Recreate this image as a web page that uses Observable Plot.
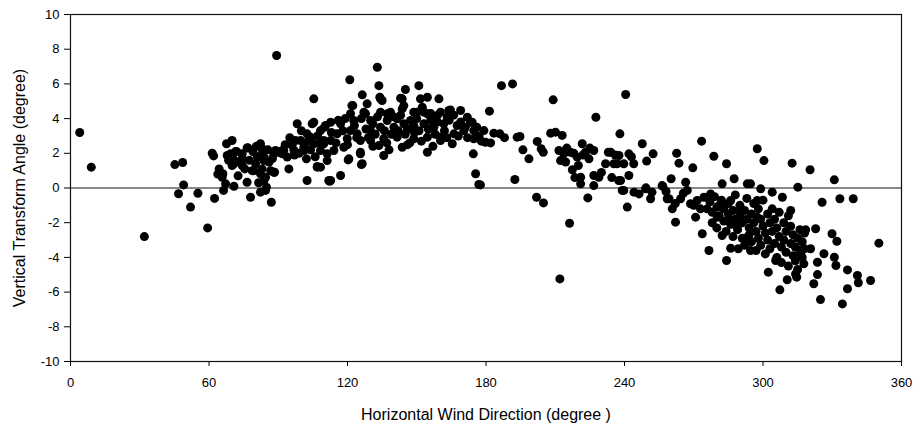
<!DOCTYPE html>
<html>
<head>
<meta charset="utf-8">
<script src="https://cdn.jsdelivr.net/npm/d3@7"></script>
<script src="https://cdn.jsdelivr.net/npm/@observablehq/plot@0.6"></script>
<style>
  html, body { margin: 0; padding: 0; background: #fff; }
  #chart svg { display: block; font-family: "Liberation Sans", Arial, sans-serif; }
</style>
</head>
<body>
<div id="chart"></div>
<script>
// Axis tick values
const directionTicks = [0, 60, 120, 180, 240, 300, 360];
const angleTicks = [-10, -8, -6, -4, -2, 0, 2, 4, 6, 8, 10];

// Observations as [horizontal wind direction (deg), vertical transform angle (deg)], grouped by sector
const sector000to090 = [
  [4,3.2],[9,1.2],[32,-2.8],
  [45.2,1.35],[48.6,1.47],[49,0.18],[46.8,-0.33],[52,-1.1],[55.2,-0.3],[59.4,-2.3],[62.4,-0.6],
  [61.4,2.0],[62,1.85],[66.3,-0.14],[67.2,0.24],[70.8,0.1],[64.4,1.1],[66,0.82],[67.6,2.55],[70,2.74],
  [67.9,1.87],[70,1.3],[70.5,1.68],[74.4,1.68],[74.4,1.3],[76.8,2.32],[76.5,0.33],[78,-0.53],[79.4,1.0],
  [80.2,1.4],[82.3,2.55],[83,2.26],[83.8,1.78],[82.3,0.82],[83.8,0.43],[82.3,-0.24],[84.5,-0.14],[87,-0.82],
  [86.7,1.0],[88.1,0.91],[86,1.49],[88.8,2.16],[89.3,7.64],[65.7,0.62],[69.3,1.97],[70.8,1.4],[73.7,1.58],
  [74.4,1.97],[76.5,2.31],[78.7,1.0],[83,1.97],[83.8,1.58],[83,1.1],[84.5,0.62],[84.9,0.05],[88.4,0.91],
  [89.6,2.06],[72,2.1],[75.5,1.1],[79,2.1],[81,1.8],[85.5,2.2],[87.5,1.7],[77.5,1.6],[80.5,2.4],[68.5,1.6],
  [71.5,2.1],[63.8,0.8],[72.6,0.7],[81.5,0.3],[88.1,1.97]
];

const sector090to180 = [
  [91.7,2.16],[91.7,1.97],[93.9,1.78],[94.6,1.1],[96,2.45],[98.2,3.7],[99.7,2.74],[101.1,2.16],[102.2,1.68],
  [102.5,0.43],[104.7,3.7],[104,2.93],[106.9,1.2],[108.3,2.55],[110.5,3.6],[111.2,1.97],[111.9,0.43],
  [132.9,6.96],[121,6.24],[133.6,5.9],[126.4,5.37],[134,5.23],[135,5.04],[143,5.18],[145.1,5.68],[150.9,5.9],
  [151.6,5.14],[154.6,5.23],[159.6,5.14],[122.3,4.75],[143.7,4.56],[108.3,3.31],[112.7,3.79],[117,3.7],
  [121.3,4.28],[127.1,4.37],[137.2,4.28],[138.6,4.37],[150.2,4.37],[154.6,4.28],[163.9,4.47],[169,4.47],
  [171.9,4.08],[174,3.79],[174.7,3.31],[174.7,2.84],[174.5,1.97],[175.5,0.82],[176.9,0.2],[109.7,2.55],
  [111.2,1.58],[108.3,1.2],[112.7,0.43],[117,0.72],[120.6,1.68],[125.6,2.06],[126.4,1.4],[133.6,2.45],
  [135.7,1.87],[143.7,2.35],[154.6,2.06],[165.4,2.55],[160.3,2.74],[105.4,5.14],[134.3,5.14],[143.7,5.14],
  [121.9,4.75],[164.6,4.5],[105.4,3.79],[127.8,4.28],[134.3,4.37],[148.7,4.37],[153.1,4.37],[158.9,4.18],
  [163.2,4.08],[173.3,3.79],[126,1.35],[125.6,1.97],[120.3,1.62],[112.3,0.39],[106.9,1.24],[92.4,2.16],
  [96.8,2.16],[101.1,2.35],[97.5,2.74],[102.5,3.12],[109.7,2.74],[115.5,3.12],[119.9,2.84],[124.2,3.12],
  [130,3.31],[134.3,3.5],[140.1,3.5],[144.4,3.7],[148.7,3.6],[153.1,3.7],[157.4,3.5],[161.7,3.7],[167.5,3.6],
  [170.4,3.31],[166.1,3.12],[160.3,2.93],[154.6,2.93],[148.7,2.84],[141.5,2.93],[135.7,2.84],[130,2.74],
  [125.6,2.74],[121.3,3.31],[112.7,2.74],[105.4,2.55],[108.3,2.16],[114.1,2.16],[118.4,2.35],[141.5,3.99],
  [147.3,3.89],[156,3.89],[130,3.89],[122.7,3.89],[137.2,3.89],[160.3,4.37],[152.4,4.66],[144.4,4.75],
  [128.5,4.85],[95,2.9],[100,3.3],[103,2.7],[107,3.0],[110,3.5],[113,3.2],[115,2.6],[116,3.9],[118,3.3],
  [119,4.0],[120,2.5],[123,3.6],[124,2.9],[126,4.0],[128,3.4],[129,2.9],[131,3.7],[132,3.1],[133,4.1],
  [136,3.3],[137,2.6],[139,3.1],[140,4.1],[142,3.3],[143,4.2],[145,3.1],[146,3.4],[147,2.6],[149,3.2],
  [150,4.0],[151,3.3],[152,2.7],[155,3.4],[156,4.3],[158,3.1],[159,3.8],[162,3.3],[163,2.9],[164,3.9],
  [166,4.2],[168,3.0],[169,3.8],[171,3.5],[172,2.9],[176,3.5],[177,3.0],[178,2.7],[99,2.0],[104,2.2],
  [106,1.8],[93,2.5],[97,1.9],[131,2.4],[138,2.2],[146,2.5],[157,2.4]
];

const sector180to270 = [
  [186.7,5.9],[191.5,6.0],[181.5,4.43],[209.1,5.08],[227.6,4.08],[179.1,3.31],[179.8,2.64],[183.4,3.16],
  [186,3.12],[193.5,2.93],[194.7,2.97],[177.6,0.18],[192.5,0.49],[198.6,1.68],[202.2,2.68],[203.9,2.26],
  [204.8,2.06],[208,3.16],[210.1,3.22],[213,3.03],[211.6,2.16],[213.7,1.97],[212.3,1.58],[216.6,2.06],
  [219.5,1.78],[221.7,2.55],[223.1,2.06],[224.6,1.68],[226.7,2.16],[217.4,1.05],[221,0.62],[221,0.24],
  [226.7,0.72],[228.9,0.62],[226.7,0.14],[233,2.06],[231.8,1.4],[236.8,1.4],[237.5,0.43],[238,3.12],
  [201.9,-0.53],[204.9,-0.86],[224.1,-0.57],[216.2,-2.03],[212,-5.24],[240.5,5.39],[247.7,2.55],
  [252.4,1.97],[249.6,1.55],[262.6,2.0],[263.6,1.43],[269.6,1.16],[260.2,0.53],[256.6,0.09],[249.3,0.01],
  [251.3,-0.62],[241.2,-1.1],[244.1,-0.24],[246.3,-0.34],[239,-0.14],[258.5,-0.62],[260.7,-1.2],
  [262.1,-1.97],[234,2.06],[237.6,1.87],[241.9,1.97],[235.4,1.4],[239.7,1.4],[244,1.4],[238.3,0.43],
  [241.9,0.72],[239.7,-0.14],[249.1,-0.05],[251.9,-0.24],[256.3,0.14],[259.3,-0.62],[266.5,0.33],
  [267.2,-0.14],[264.3,-0.62],[268.6,-0.91],[215,2.3],[218,2.0],[214.5,1.5],[222,1.9],[225,2.3],[220,1.3],
  [196,2.2],[182,2.6],[188,2.9],[236,1.9],[243,1.8],[230,0.9],[218.5,0.6],[234.5,0.6],[265.5,-0.3],
  [262,-0.9],[258,-0.2]
];

const sector270to360 = [
  [273.4,2.7],[271.5,-0.72],[270.8,-1.68],[273.7,-2.64],[276.6,-3.6],[284.2,-4.18],[286,-3.47],[289.3,-3.5],
  [278.7,1.83],[284.2,1.4],[297.5,2.26],[282.3,0.24],[287.5,0.53],[293.2,0.24],[277.3,-0.34],[281.6,-0.91],
  [275.8,-1.2],[280.2,-1.68],[282.3,-2.74],[285.2,-1.87],[288.8,-2.26],[293.2,-2.84],[294.6,-3.6],
  [297.5,-0.72],[297.5,-1.68],[290.3,-1.3],[286,-0.72],[274.4,-0.53],[272.9,-1.2],[270,-1.0],[300.4,1.58],
  [312.6,1.43],[320.4,1.05],[330.9,0.47],[315.1,0.05],[325.6,-0.82],[333.3,-0.62],[339.1,-0.62],
  [350.2,-3.18],[329.9,-2.64],[332,-3.07],[322.8,-2.35],[318.5,-2.41],[320.6,-3.5],[326.4,-3.79],
  [330.9,-3.99],[323.6,-4.28],[331.6,-4.47],[336.6,-4.72],[340.9,-5.04],[341.3,-5.46],[346.6,-5.33],
  [336.6,-5.81],[334.4,-6.68],[324.9,-6.43],[322,-5.52],[323.6,-4.99],[307.3,-5.87],[310.5,-5.29],
  [314.6,-5.14],[302.3,-4.85],[305.5,-4.18],[294.6,0.24],[299,-0.05],[304,-0.24],[308.4,-0.53],[312,-1.3],
  [316.3,-3.79],[314.1,-4.95],[317.7,-4.37],
  [277,-0.8],[278,-1.4],[278,-2.0],[279,-0.5],[280,-1.1],[280,-2.3],[281,-1.6],[282,-0.7],[283,-1.9],
  [283,-1.2],[284,-2.5],[285,-0.9],[285,-1.5],[286,-2.1],[287,-1.3],[287,-2.8],[288,-0.4],[288,-1.8],
  [289,-2.4],[290,-1.0],[290,-1.6],[291,-2.0],[291,-2.9],[292,-1.3],[292,-3.3],[293,-1.8],[293,-0.6],
  [294,-2.3],[294,-2.7],[295,-1.5],[295,-3.1],[296,-2.0],[296,-0.9],[297,-2.5],[297,-3.6],[298,-1.2],
  [298,-2.9],[299,-1.8],[299,-3.3],[300,-2.2],[300,-0.7],[301,-2.6],[301,-3.8],[302,-1.5],[302,-3.0],
  [303,-2.0],[303,-3.5],[304,-1.2],[304,-2.5],[305,-3.2],[305,-1.8],[306,-2.3],[306,-4.0],[307,-2.8],
  [307,-1.4],[308,-3.4],[308,-4.3],[309,-2.0],[309,-3.0],[310,-3.7],[310,-2.5],[311,-1.6],[311,-4.5],
  [312,-3.2],[312,-2.2],[313,-3.9],[313,-2.7],[314,-4.2],[314,-3.4],[315,-2.9],[315,-4.7],[316,-3.6],
  [316,-2.4],[317,-4.0],[317,-3.1],[318,-3.5],[318,-2.6]
];

const observations = [...sector000to090, ...sector090to180, ...sector180to270, ...sector270to360]
  .map(([direction, angle]) => ({direction, angle}));

// Plain hyphen for negative tick labels
const plainNumber = (d) => String(d);

const chart = Plot.plot({
  width: 915,
  height: 423,
  marginLeft: 70,
  marginRight: 14,
  marginTop: 14,
  marginBottom: 62,
  style: {fontFamily: "'Liberation Sans', Arial, sans-serif", fontSize: "13px", color: "#000", background: "#fff"},
  x: {domain: [0, 360], ticks: directionTicks, tickFormat: plainNumber, tickSize: 5, tickPadding: 11, label: null},
  y: {domain: [-10, 10], ticks: angleTicks, tickFormat: plainNumber, tickSize: 6, tickPadding: 5, label: null},
  marks: [
    Plot.ruleY([0], {stroke: "#111", strokeWidth: 1}),
    Plot.dot(observations, {x: "direction", y: "angle", r: 4.5, fill: "#000", stroke: "none"}),
    Plot.frame({stroke: "#111", strokeWidth: 1.2}),
    Plot.text(["Horizontal Wind Direction (degree )"], {frameAnchor: "bottom", lineAnchor: "bottom", dy: 58, fontSize: 16}),
    Plot.text(["Vertical Transform Angle (degree)"], {frameAnchor: "left", textAnchor: "middle", lineAnchor: "middle", rotate: -90, dx: -51, fontSize: 16})
  ]
});

document.getElementById("chart").appendChild(chart);
</script>
</body>
</html>
